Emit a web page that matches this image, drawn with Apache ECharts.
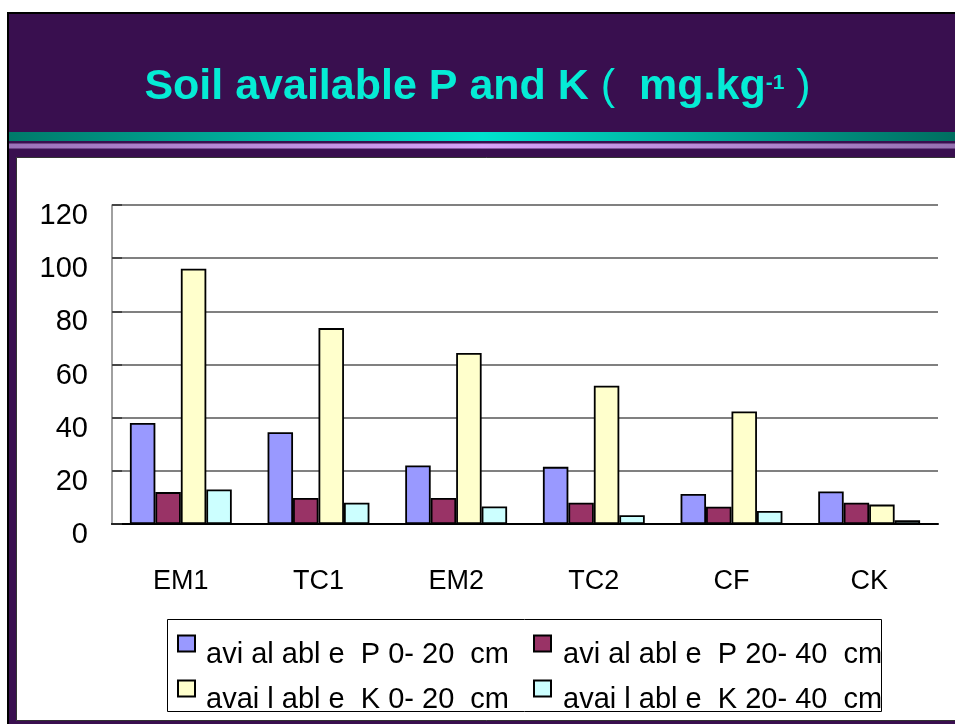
<!DOCTYPE html>
<html>
<head>
<meta charset="utf-8">
<script src="https://cdn.jsdelivr.net/npm/echarts@6/dist/echarts.min.js"></script>
<style>
  html, body { margin: 0; padding: 0; background: #fff; }
  #chart { width: 955px; height: 724px; }
</style>
</head>
<body>
<div id="chart"></div>
<script>
// categories and values
const categories = ['EM1', 'TC1', 'EM2', 'TC2', 'CF', 'CK']
const seriesNames = [
  'avi al abl e  P 0- 20  cm',
  'avi al abl e  P 20- 40  cm',
  'avai l abl e  K 0- 20  cm',
  'avai l abl e  K 20- 40  cm',
]
const pTop = [38, 34.5, 22, 21.5, 11.3, 12.2]
const pSub = [12, 9.8, 9.8, 8, 6.5, 8]
const kTop = [96, 73.7, 64.3, 52, 42.3, 7.3]
const kSub = [13, 8, 6.6, 3.3, 4.9, 1.4]
const yMin = 0
const yMax = 120
const yStep = 20

const barColors = ['#9999FF', '#993366', '#FFFFCC', '#CCFFFF']
const values = [pTop, pSub, kTop, kSub]
const FONT = '"Liberation Sans", Arial, sans-serif'

const chart = echarts.init(document.getElementById('chart'))

const legendPos = [
  {left: 177, top: 629, padLeft: 6},
  {left: 533, top: 629, padLeft: 7},
  {left: 177, top: 674, padLeft: 6},
  {left: 533, top: 674, padLeft: 7},
]

const options = {
  animation: false,
  title: {
    text: 'Soil available P and K{p| (  }mg.kg{s|-1}{p| )}',
    left: 'center',
    top: 66,
    padding: 0,
    textStyle: {
      color: '#05EBD5',
      fontFamily: FONT,
      fontSize: 43,
      fontWeight: 'bold',
      rich: {
        p: {color: '#05EBD5', fontFamily: FONT, fontSize: 43, fontWeight: 'normal'},
        s: {color: '#05EBD5', fontFamily: FONT, fontSize: 21, fontWeight: 'bold', padding: [0, 0, 9, 0]},
      },
    },
  },
  graphic: [
    // slide background
    {type: 'rect', z: -10, shape: {x: 8, y: 13, width: 960, height: 720}, style: {fill: '#390F4F', stroke: '#000', lineWidth: 2}},
    {
      type: 'rect', z: -9, shape: {x: 9, y: 132, width: 946, height: 9},
      style: {fill: new echarts.graphic.LinearGradient(0, 0, 1, 0, [
        {offset: 0, color: '#007A6A'}, {offset: 0.5, color: '#00E2CE'}, {offset: 1, color: '#006E60'}])},
    },
    {
      type: 'rect', z: -9, shape: {x: 9, y: 143.5, width: 946, height: 5},
      style: {fill: new echarts.graphic.LinearGradient(0, 0, 1, 0, [
        {offset: 0, color: '#9A72B8'}, {offset: 0.5, color: '#D6A2F8'}, {offset: 1, color: '#9470B0'}])},
    },
    // white panel
    {type: 'rect', z: -8, shape: {x: 16.5, y: 157.5, width: 950, height: 563}, style: {fill: '#fff', stroke: '#333', lineWidth: 1}},
    // legend frame, clipped text on the right
    {type: 'rect', z: 100, silent: true, shape: {x: 882, y: 620, width: 60, height: 91}, style: {fill: '#fff'}},
    {type: 'rect', z: 101, silent: true, shape: {x: 167.5, y: 619.5, width: 714, height: 92}, style: {fill: 'none', stroke: '#000', lineWidth: 1}},
  ],
  legend: legendPos.map((p, i) => ({
    data: [seriesNames[i]],
    left: p.left,
    top: p.top,
    padding: 0,
    itemWidth: 17,
    itemHeight: 16,
    icon: 'rect',
    selectedMode: false,
    formatter: name => '{g|}{t|' + name + '}',
    textStyle: {
      color: '#000',
      fontFamily: FONT,
      fontSize: 29,
      rich: {
        g: {width: p.padLeft, height: 52},
        t: {color: '#000', fontFamily: FONT, fontSize: 29, verticalAlign: 'bottom'},
      },
    },
  })),
  grid: {
    left: 112,
    right: 17,
    top: 205,
    bottom: 200,
  },
  xAxis: {
    type: 'category',
    data: categories,
    axisLine: {lineStyle: {color: '#000', width: 2}},
    axisTick: {inside: true, length: 11, lineStyle: {color: '#000', width: 1.5}},
    axisLabel: {
      color: '#000',
      fontFamily: FONT,
      fontSize: 27,
      margin: 44,
    },
    splitLine: {show: false},
  },
  yAxis: {
    type: 'value',
    min: yMin,
    max: yMax,
    interval: yStep,
    axisLine: {show: true, lineStyle: {color: '#808080', width: 1.5}},
    axisTick: {show: true, inside: true, length: 10, lineStyle: {color: '#333', width: 1.5}},
    axisLabel: {
      color: '#000',
      fontFamily: FONT,
      fontSize: 29,
      margin: 24,
      verticalAlign: 'top',
      lineHeight: 22,
    },
    splitLine: {show: true, lineStyle: {color: '#808080', width: 2}},
  },
  series: values.map((v, i) => ({
    name: seriesNames[i],
    type: 'bar',
    data: v,
    barGap: '0%',
    barCategoryGap: '26%',
    itemStyle: {
      color: barColors[i],
      borderColor: '#000',
      borderWidth: 1.8,
    },
  })),
}

options && chart.setOption(options)
</script>
</body>
</html>
